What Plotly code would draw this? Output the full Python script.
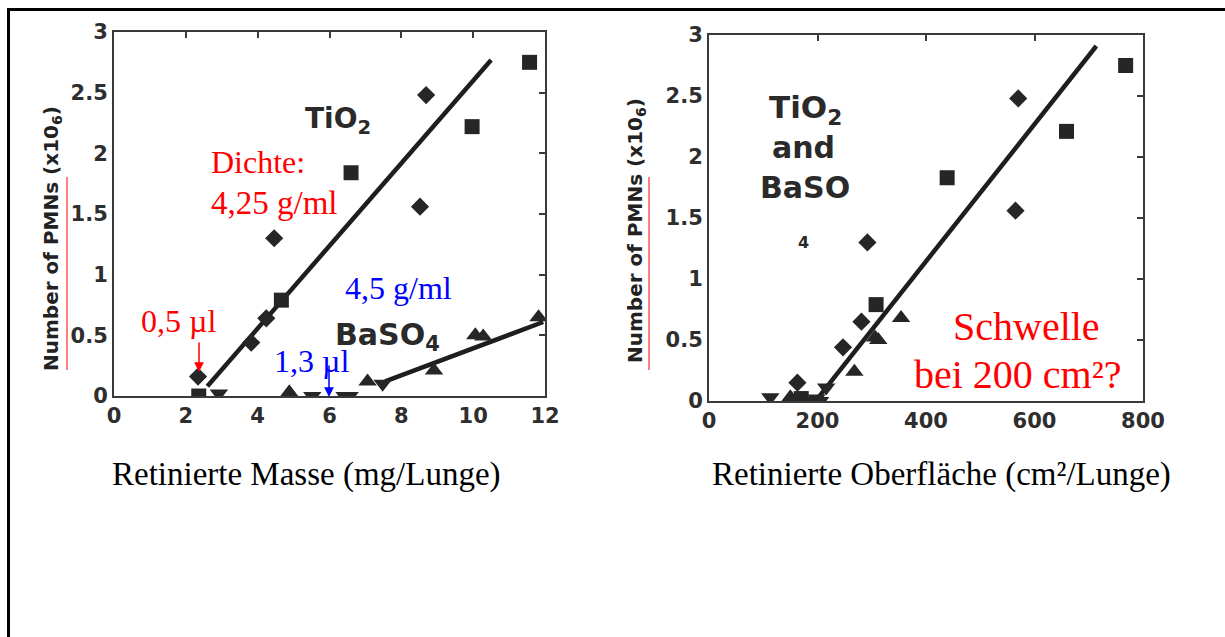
import plotly.graph_objects as go

W, H = 1225, 637

# ---------------- data: left panel (retained mass, mg/lung) ----------------
mass_tio2_diamond_x = [2.34, 3.82, 4.24, 4.46, 8.52, 8.69]
mass_tio2_diamond_y = [0.16, 0.44, 0.64, 1.30, 1.56, 2.48]
mass_tio2_square_x = [2.36, 4.66, 6.6, 9.97, 11.57]
mass_tio2_square_y = [0.0, 0.79, 1.84, 2.22, 2.75]
mass_baso4_up_x = [4.88, 7.06, 8.91, 10.06, 10.28, 11.82]
mass_baso4_up_y = [0.03, 0.12, 0.21, 0.50, 0.49, 0.65]
mass_baso4_down_x = [2.92, 5.52, 6.42, 6.56, 7.48]
mass_baso4_down_y = [0.02, 0.0, 0.0, 0.0, 0.10]
mass_tio2_fit_x = [2.6, 10.5]
mass_tio2_fit_y = [0.08, 2.77]
mass_baso4_fit_x = [7.55, 11.95]
mass_baso4_fit_y = [0.12, 0.61]

# ---------------- data: right panel (retained surface, cm2/lung) ----------------
surf_diamond_x = [163, 247, 281, 292, 565, 570]
surf_diamond_y = [0.15, 0.44, 0.65, 1.30, 1.56, 2.48]
surf_square_x = [170, 308, 439, 659, 768]
surf_square_y = [0.02, 0.79, 1.83, 2.21, 2.75]
surf_up_x = [150, 268, 306, 312, 354]
surf_up_y = [0.03, 0.24, 0.52, 0.50, 0.68]
surf_down_x = [113, 190, 198, 205, 216]
surf_down_y = [0.03, 0.0, 0.02, 0.0, 0.11]
surf_fit_x = [200, 714]
surf_fit_y = [0.02, 2.91]

# ticks
y_ticks = [0, 0.5, 1, 1.5, 2, 2.5, 3]
y_tick_text = ["0", "0.5", "1", "1.5", "2", "2.5", "3"]
mass_ticks = [0, 2, 4, 6, 8, 10, 12]
surf_ticks = [0, 200, 400, 600, 800]


def px(x):
    return x / W


def py(y):
    return 1 - y / H


MK = "#262626"
LN = "#1e1e1e"
AX = "#3a3a3a"

fig = go.Figure()


def markers(x, y, sym, size, xa, ya):
    fig.add_trace(go.Scatter(x=x, y=y, mode="markers", xaxis=xa, yaxis=ya,
                             marker=dict(symbol=sym, size=size, color=MK,
                                         line=dict(width=0)),
                             hoverinfo="skip", showlegend=False))


def line(x, y, xa, ya):
    fig.add_trace(go.Scatter(x=x, y=y, mode="lines", xaxis=xa, yaxis=ya,
                             line=dict(color=LN, width=4.5),
                             hoverinfo="skip", showlegend=False))


# left panel
line(mass_tio2_fit_x, mass_tio2_fit_y, "x", "y")
line(mass_baso4_fit_x, mass_baso4_fit_y, "x", "y")
markers(mass_tio2_diamond_x, mass_tio2_diamond_y, "diamond", 14, "x", "y")
markers(mass_tio2_square_x, mass_tio2_square_y, "square", 15, "x", "y")
markers(mass_baso4_up_x, mass_baso4_up_y, "triangle-up", 16, "x", "y")
markers(mass_baso4_down_x, mass_baso4_down_y, "triangle-down", 16, "x", "y")

# right panel
line(surf_fit_x, surf_fit_y, "x2", "y2")
markers(surf_diamond_x, surf_diamond_y, "diamond", 14, "x2", "y2")
markers(surf_square_x, surf_square_y, "square", 15, "x2", "y2")
markers(surf_up_x, surf_up_y, "triangle-up", 16, "x2", "y2")
markers(surf_down_x, surf_down_y, "triangle-down", 16, "x2", "y2")

# dummy traces for overlay tick axes (top / right inward ticks)
for xa, ya in [("x3", "y3"), ("x4", "y4")]:
    fig.add_trace(go.Scatter(x=[None], y=[None], xaxis=xa, yaxis=ya,
                             mode="markers", showlegend=False, hoverinfo="skip"))

tickfont = dict(family="DejaVu Sans", size=21, color="#2e2e2e", weight="bold")

L_dom_x = [px(114), px(545)]
L_dom_y = [py(396), py(32)]
R_dom_x = [px(709), px(1143)]
R_dom_y = [py(401), py(35)]

base_x = dict(showgrid=False, zeroline=False, showline=True, linecolor=AX,
              linewidth=2, mirror=True, ticks="", tickfont=tickfont, automargin=False)
base_y = dict(showgrid=False, zeroline=False, showline=True, linecolor=AX,
              linewidth=2, mirror=True, ticks="", tickfont=tickfont, automargin=False,
              tickvals=y_ticks, ticktext=y_tick_text, range=[0, 3])

overlay_tick = dict(showgrid=False, zeroline=False, showline=False,
                    ticks="inside", ticklen=6, tickwidth=1.5, tickcolor=AX,
                    showticklabels=False, automargin=False)

fig.update_layout(
    width=W, height=H, autosize=False,
    margin=dict(l=0, r=0, t=0, b=0, pad=0, autoexpand=False),
    paper_bgcolor="white", plot_bgcolor="white",
    xaxis=dict(base_x, domain=L_dom_x, range=[0, 12], tickvals=mass_ticks, anchor="y"),
    yaxis=dict(base_y, domain=L_dom_y, anchor="x"),
    xaxis2=dict(base_x, domain=R_dom_x, range=[0, 800], tickvals=surf_ticks, anchor="y2"),
    yaxis2=dict(base_y, domain=R_dom_y, anchor="x2"),
    xaxis3=dict(overlay_tick, overlaying="x", side="top", anchor="y3",
                range=[0, 12], tickvals=[2, 4, 6, 8, 10]),
    yaxis3=dict(overlay_tick, overlaying="y", side="right", anchor="x3",
                range=[0, 3], tickvals=[0.5, 1, 1.5, 2, 2.5]),
    xaxis4=dict(overlay_tick, overlaying="x2", side="top", anchor="y4",
                range=[0, 800], tickvals=[200, 400, 600]),
    yaxis4=dict(overlay_tick, overlaying="y2", side="right", anchor="x4",
                range=[0, 3], tickvals=[0.5, 1, 1.5, 2, 2.5]),
)

serif = "Liberation Serif"
INK = "#2a2a2a"
RED = "#ff0000"
BLUE = "#0000ff"


def sans(size):
    return dict(family="DejaVu Sans", size=size, color=INK, weight="bold")


ann = []


def txt(x, y, text, font, xanchor="center", yanchor="middle", angle=0):
    ann.append(dict(x=x, y=y, xref="paper", yref="paper", text=text, showarrow=False,
                    font=font, xanchor=xanchor, yanchor=yanchor, textangle=angle))


# y-axis titles
ytitle = "Number of PMNs (x10<sub>6</sub>)"
ytfont = dict(family="DejaVu Sans", size=20, color="#222222", weight="bold")
txt(px(52), py(239), ytitle, ytfont, angle=-90)
txt(px(636), py(231), ytitle, ytfont, angle=-90)

# x-axis titles
xtfont = dict(family=serif, size=33, color="black")
txt(px(306), py(474), "Retinierte Masse (mg/Lunge)", xtfont)
txt(px(941), py(474), "Retinierte Oberfläche (cm²/Lunge)", xtfont)

# left panel labels
txt(px(338), py(120), "TiO<sub>2</sub>", sans(28))
txt(px(209), py(162), "Dichte:", dict(family=serif, size=32, color=RED), xanchor="left")
txt(px(209), py(203), "4,25 g/ml", dict(family=serif, size=33, color=RED), xanchor="left")
txt(px(343), py(288), "4,5 g/ml", dict(family=serif, size=32, color=BLUE), xanchor="left")
txt(px(139), py(321), "0,5 µl", dict(family=serif, size=32, color=RED), xanchor="left")
txt(px(333), py(336), "BaSO<sub>4</sub>", sans(30), xanchor="left")
txt(px(272), py(361), "1,3 µl", dict(family=serif, size=32, color=BLUE), xanchor="left")

# right panel labels
txt(px(805), py(109), "TiO<sub>2</sub>", sans(31))
txt(px(803), py(148), "and", sans(30))
txt(px(805), py(187), "BaSO", sans(30))
txt(px(803), py(242), "4", sans(16))
txt(px(1026), py(326), "Schwelle", dict(family=serif, size=40, color=RED))
txt(px(1017), py(374), "bei 200 cm²?", dict(family=serif, size=40, color=RED))

# arrows
ann.append(dict(x=px(199), y=py(372), xref="paper", yref="paper", ax=0, ay=-31,
                text="", showarrow=True, arrowhead=2, arrowsize=1.3, arrowwidth=1.5,
                arrowcolor=RED))
ann.append(dict(x=px(329), y=py(397), xref="paper", yref="paper", ax=0, ay=-33,
                text="", showarrow=True, arrowhead=2, arrowsize=1.3, arrowwidth=1.5,
                arrowcolor=BLUE))

fig.update_layout(annotations=ann)

shapes = [
    # outer frame
    dict(type="rect", xref="paper", yref="paper", x0=px(8.5), y0=-0.05, x1=1.05, y1=py(9.5),
         line=dict(color="black", width=3), fillcolor="rgba(0,0,0,0)", layer="above"),
    # red underline marks next to y titles
    dict(type="line", xref="paper", yref="paper", x0=px(67), x1=px(67), y0=py(370), y1=py(177),
         line=dict(color=RED, width=1)),
    dict(type="line", xref="paper", yref="paper", x0=px(649), x1=px(649), y0=py(370), y1=py(177),
         line=dict(color=RED, width=1)),
]
fig.update_layout(shapes=shapes)

fig.write_html("out.html", config={"displayModeBar": False},
               post_script="document.body.style.margin='0';document.body.style.padding='0';")
